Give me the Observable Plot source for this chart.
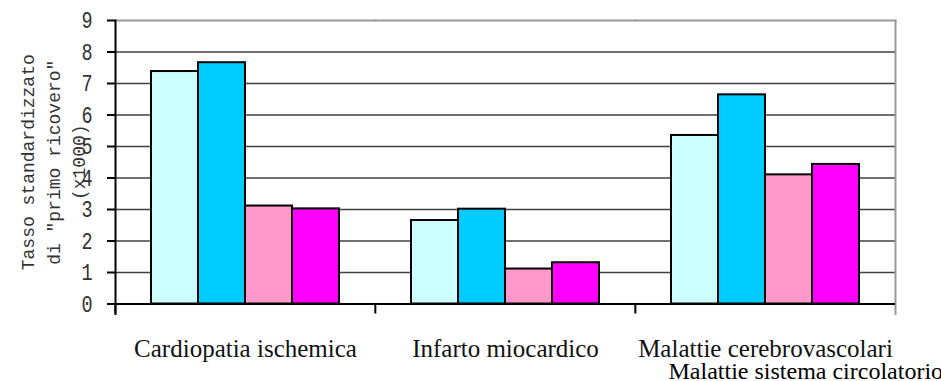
<!DOCTYPE html>
<html>
<head>
<meta charset="utf-8">
<script src="https://cdn.jsdelivr.net/npm/d3@7"></script>
<script src="https://cdn.jsdelivr.net/npm/@observablehq/plot@0.6"></script>
<style>
  html, body { margin: 0; padding: 0; background: #fff; }
</style>
</head>
<body>
<div id="chart"></div>
<script>
// Causes of first hospital admission (groups along the x axis)
const categories = ["Cardiopatia ischemica", "Infarto miocardico", "Malattie cerebrovascolari"];

// Four population groups, one bar each per cause
const seriesNames = ["maschi_1", "maschi_2", "femmine_1", "femmine_2"];
const seriesColors = ["#ccffff", "#00ccff", "#ff99cc", "#ff00ff"];

// Standardised first-admission rate (x1000), one array per group, in category order
const maschi1 = [7.38, 2.65, 5.35];
const maschi2 = [7.66, 3.01, 6.64];
const femmine1 = [3.11, 1.11, 4.10];
const femmine2 = [3.02, 1.31, 4.43];

const yTicks = [0, 1, 2, 3, 4, 5, 6, 7, 8, 9];
const yTitle = "Tasso standardizzato\ndi \"primo ricovero\"\n(x1000)";
const xTitle = "Malattie sistema circolatorio";

const seriesValues = [maschi1, maschi2, femmine1, femmine2];
const rows = categories.flatMap((categoria, i) =>
  seriesNames.map((serie, j) => ({categoria, serie, valore: seriesValues[j][i]}))
);

const W = 941, H = 381;
const mL = 114, mR = 46, mT = 20, mB = 77.5;
const band = (W - mL - mR) / categories.length;

const chart = Plot.plot({
  width: W,
  height: H,
  marginLeft: mL,
  marginRight: mR,
  marginTop: mT,
  marginBottom: mB,
  style: {background: "#fff", overflow: "visible"},
  fx: {domain: categories, padding: 0, axis: null},
  x: {domain: seriesNames, paddingInner: 0, paddingOuter: 0.75, axis: null},
  y: {domain: [0, 9], axis: null},
  color: {domain: seriesNames, range: seriesColors},
  marks: [
    // horizontal gridlines
    Plot.gridY(yTicks.filter(d => d > 0 && d < 9), {stroke: "#404040", strokeOpacity: 1, strokeWidth: 1.6}),
    // plot area border (top and right)
    Plot.frame({anchor: "top", stroke: "#9a9a9a", strokeWidth: 2}),
    Plot.frame({anchor: "right", facetAnchor: "right", stroke: "#9a9a9a", strokeWidth: 2, insetBottom: -10}),
    // bars
    Plot.barY(rows, {fx: "categoria", x: "serie", y: "valore", fill: "serie", stroke: "#000", strokeWidth: 2}),
    // axis lines
    Plot.ruleY([0], {stroke: "#000", strokeWidth: 2}),
    Plot.frame({anchor: "left", facetAnchor: "left", stroke: "#000", strokeWidth: 2, insetBottom: -10}),
    // y axis ticks and labels
    Plot.axisY(yTicks, {
      anchor: "left", tickSize: 8, tickPadding: 15, stroke: "#000", strokeWidth: 2,
      fill: "#333", fontFamily: "Liberation Mono", fontSize: 21, label: null
    }),
    // category boundary ticks
    Plot.axisFx({anchor: "bottom", tickSize: 10, dx: -band / 2, stroke: "#000", strokeWidth: 2, fill: "none", label: null}),
    // category labels
    Plot.axisFx({
      anchor: "bottom", tickSize: 0, tickPadding: 35, fill: "#111",
      fontFamily: "Liberation Serif", fontSize: 25, label: null
    }),
    // y axis title
    Plot.text([yTitle], {
      facet: "super", text: d => d, frameAnchor: "left", rotate: -90,
      textAnchor: "middle", lineAnchor: "middle", lineHeight: 1.42, dx: -64,
      fontFamily: "Liberation Mono", fontSize: 18, fill: "#333", ariaLabel: "y-title"
    }),
    // x axis title
    Plot.text([xTitle], {
      facet: "super", text: d => d, frameAnchor: "bottom-right",
      textAnchor: "start", lineAnchor: "middle", dx: -227, dy: 67,
      fontFamily: "Liberation Serif", fontSize: 24, fill: "#000", ariaLabel: "x-title"
    })
  ]
});

// Tall, narrow glyphs for the y-axis digits and title
const svg = d3.select(chart);
svg.selectAll('g[aria-label="y-axis tick label"] text').each(function() {
  const t = d3.select(this);
  t.attr("transform", (t.attr("transform") || "") + " scale(0.88,1.18)");
});
svg.selectAll('g[aria-label="y-title"] text').each(function() {
  const t = d3.select(this);
  t.attr("transform", (t.attr("transform") || "") + " scale(1,1.25)");
});

document.getElementById("chart").append(chart);
</script>
</body>
</html>
